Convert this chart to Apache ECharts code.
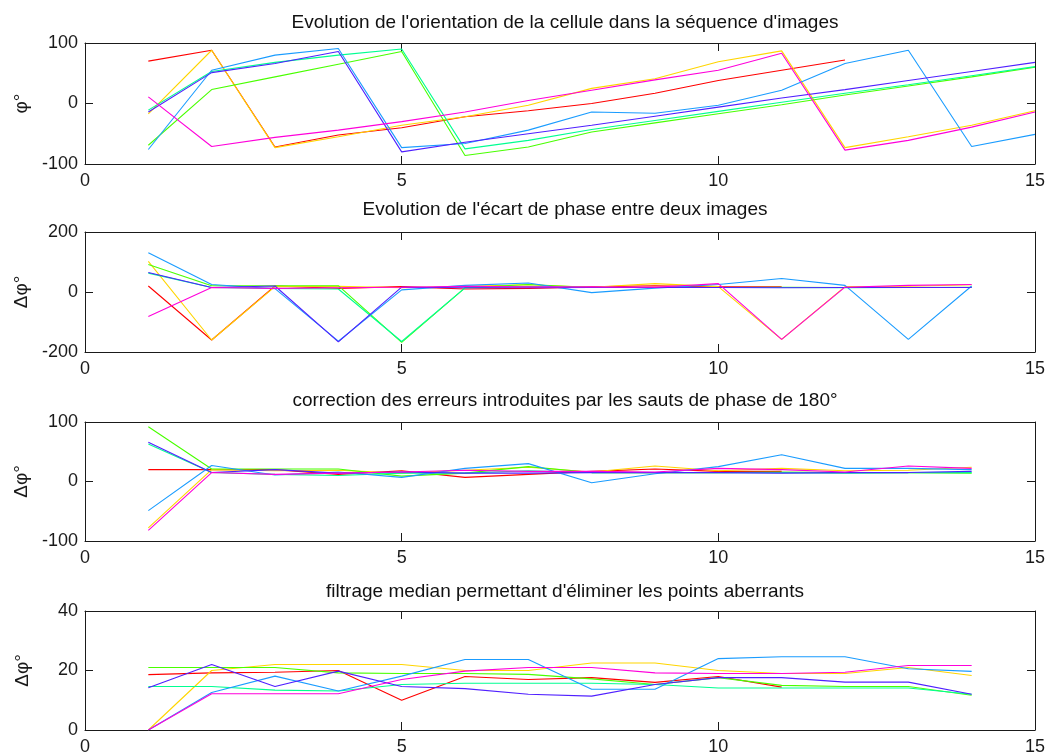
<!DOCTYPE html>
<html><head><meta charset="utf-8">
<script src="https://cdn.jsdelivr.net/npm/echarts@6/dist/echarts.min.js"></script>
<style>html,body{margin:0;padding:0;background:#fff}#c{width:1048px;height:756px}</style>
</head><body><div id="c"></div>
<script>
// ---- data (x = image index, starting at 1) ----
const seriesNames = ['cellule 1','cellule 2','cellule 3','cellule 4','cellule 5','cellule 6','cellule 7'];
const titles = [
  "Evolution de l'orientation de la cellule dans la séquence d'images",
  "Evolution de l'écart de phase entre deux images",
  "correction des erreurs introduites par les sauts de phase de 180°",
  "filtrage median permettant d'éliminer les points aberrants"
];
const yNames = ['φ°','Δφ°','Δφ°','Δφ°'];
const xTickValues = [0, 5, 10, 15];
const yTickValues = [[-100, 0, 100], [-200, 0, 200], [-100, 0, 100], [0, 20, 40]];

// panel 1: orientation phi
const phiRed     = [70, 88, -72, -52, -40, -22, -12, 0, 17, 38, 55, 72];
const phiYellow  = [-17, 88, -73, -55, -36, -22, -3, 25, 41, 69, 87, -73, -55, -36, -12];
const phiGreen   = [-69, 23, 44, 65, 86, -86, -72, -47, -32, -17, -2, 14, 29, 44, 60];
const phiSpring  = [-11, 53, 68, 80, 90, -75, -61, -43, -28, -13, 2, 17, 31, 46, 61];
const phiAzure   = [-76, 55, 80, 91, -73, -66, -44, -14, -16, -3, 22, 66, 88, -71, -51];
const phiViolet  = [-14, 51, 66, 86, -80, -64, -50, -36, -21, -6, 9, 23, 38, 53, 68];
const phiMagenta = [11, -71, -56, -44, -30, -14, 5, 22, 39, 55, 83, -77, -61, -39, -14];

// panel 2: phase difference
const dRed     = [20, -160, 20, 12, 18, 10, 12, 17, 21, 17, 17];
const dYellow  = [102, -160, 18, 19, 14, 19, 24, 16, 28, 18, -158, 18, 19, 24];
const dGreen   = [92, 21, 21, 21, -168, 14, 25, 15, 15, 15, 16, 15, 15, 16];
const dSpring  = [63, 15, 12, 10, -165, 14, 18, 15, 15, 15, 15, 14, 15, 15];
const dAzure   = [131, 25, 11, -164, 7, 22, 30, -2, 13, 25, 45, 22, -158, 20];
const dViolet  = [65, 15, 20, -166, 16, 14, 14, 15, 15, 15, 14, 15, 15, 15];
const dMagenta = [-82, 15, 12, 14, 16, 19, 17, 17, 16, 28, -158, 16, 22, 25];

// panel 3: corrected difference
const cRed     = [20, 20, 20, 12, 18, 7, 12, 17, 21, 17, 17];
const cYellow  = [-78, 20, 18, 19, 14, 19, 24, 16, 26, 18, 22, 18, 19, 24];
const cGreen   = [92, 21, 21, 21, 9, 14, 25, 15, 15, 15, 16, 15, 15, 14];
const cSpring  = [63, 15, 12, 10, 14, 14, 18, 15, 15, 15, 15, 14, 15, 15];
const cAzure   = [-49, 27, 11, 16, 7, 22, 30, -2, 13, 25, 45, 22, 22, 20];
const cViolet  = [66, 15, 20, 14, 16, 14, 14, 15, 15, 15, 14, 15, 15, 17];
const cMagenta = [-82, 15, 12, 14, 16, 19, 17, 17, 16, 22, 20, 16, 26, 22];

// panel 4: median filtered
const mRed     = [18.6, 19.2, 19.4, 20, 10, 18, 17, 17.6, 16, 18, 14.4];
const mYellow  = [0, 20, 22, 22, 22, 20, 20, 22.5, 22.5, 20, 19, 19, 21, 18.3];
const mGreen   = [21, 21, 21, 19.2, 19, 19, 18.7, 17.2, 15.3, 17.6, 15, 14.6, 14.6, 11.7];
const mSpring  = [14.6, 14.6, 13.4, 13.1, 15.3, 15.7, 15.7, 15.7, 15.3, 14.1, 14.1, 14.1, 14.1, 12];
const mAzure   = [0, 12.6, 18.1, 13.1, 18.1, 23.7, 23.7, 13.7, 13.7, 24, 24.6, 24.6, 20.6, 19.7];
const mViolet  = [14.2, 22, 14.6, 19.8, 14.6, 13.9, 12, 11.4, 15.3, 17.6, 17.6, 16.1, 16.1, 12];
const mMagenta = [0, 12.2, 12.2, 12.2, 17, 19.8, 21, 21, 19.2, 19, 19, 19.4, 21.7, 21.7];

const panels = [
  [phiRed, phiYellow, phiGreen, phiSpring, phiAzure, phiViolet, phiMagenta],
  [dRed, dYellow, dGreen, dSpring, dAzure, dViolet, dMagenta],
  [cRed, cYellow, cGreen, cSpring, cAzure, cViolet, cMagenta],
  [mRed, mYellow, mGreen, mSpring, mAzure, mViolet, mMagenta]
];

// ---- styling / layout ----
const colors = ['#ff0000', '#ffd500', '#49ff00', '#00ff92', '#1a9cff', '#5020ff', '#ff00db'];
const FONT = 'Liberation Sans, Arial, sans-serif';
const gridTops = [43, 232, 422, 611];
const gridHeights = [121, 120, 119, 120];
const titleTops = [8, 195, 386, 577];
const axisColor = '#1a1a1a';

const grid = [], xAxis = [], yAxis = [], series = [], title = [];
panels.forEach((p, g) => {
  grid.push({left: 85, width: 950, top: gridTops[g], height: gridHeights[g], containLabel: false});
  title.push({text: titles[g], left: 560, top: titleTops[g], textAlign: 'center',
    textStyle: {fontFamily: FONT, fontSize: 19, fontWeight: 'normal', color: '#111'}});
  const xt = xTickValues;
  const common = {
    type: 'value', gridIndex: g, min: xt[0], max: xt[xt.length - 1], interval: xt[1] - xt[0],
    axisLine: {show: true, onZero: false, lineStyle: {color: axisColor, width: 1}},
    axisTick: {show: true, inside: true, length: 8, lineStyle: {color: axisColor}},
    splitLine: {show: false}
  };
  xAxis.push(Object.assign({}, common, {position: 'bottom',
    axisLabel: {show: true, fontFamily: FONT, fontSize: 18, color: axisColor, margin: 8}}));
  xAxis.push(Object.assign({}, common, {position: 'top', axisLabel: {show: false}}));
  const yt = yTickValues[g];
  const ycommon = {
    type: 'value', gridIndex: g, min: yt[0], max: yt[yt.length - 1], interval: yt[1] - yt[0],
    axisLine: {show: true, onZero: false, lineStyle: {color: axisColor, width: 1}},
    axisTick: {show: true, inside: true, length: 8, lineStyle: {color: axisColor}},
    splitLine: {show: false}
  };
  yAxis.push(Object.assign({}, ycommon, {position: 'left',
    name: yNames[g], nameLocation: 'middle', nameRotate: 90, nameGap: 53,
    nameTextStyle: {fontFamily: FONT, fontSize: 19, color: axisColor},
    axisLabel: {show: true, fontFamily: FONT, fontSize: 18, color: axisColor, margin: 7}}));
  yAxis.push(Object.assign({}, ycommon, {position: 'right', axisLabel: {show: false}}));
  p.forEach((arr, s) => {
    series.push({
      type: 'line', name: seriesNames[s], xAxisIndex: 2 * g, yAxisIndex: 2 * g,
      data: arr.map((v, i) => [i + 1, v]),
      showSymbol: false, symbol: 'none', animation: false,
      lineStyle: {color: colors[s], width: 1.1},
      itemStyle: {color: colors[s]}
    });
  });
});

const chart = echarts.init(document.getElementById('c'), null, {renderer: 'canvas'});
chart.setOption({backgroundColor: '#fff', animation: false, title, grid, xAxis, yAxis, series});
</script>
</body></html>
